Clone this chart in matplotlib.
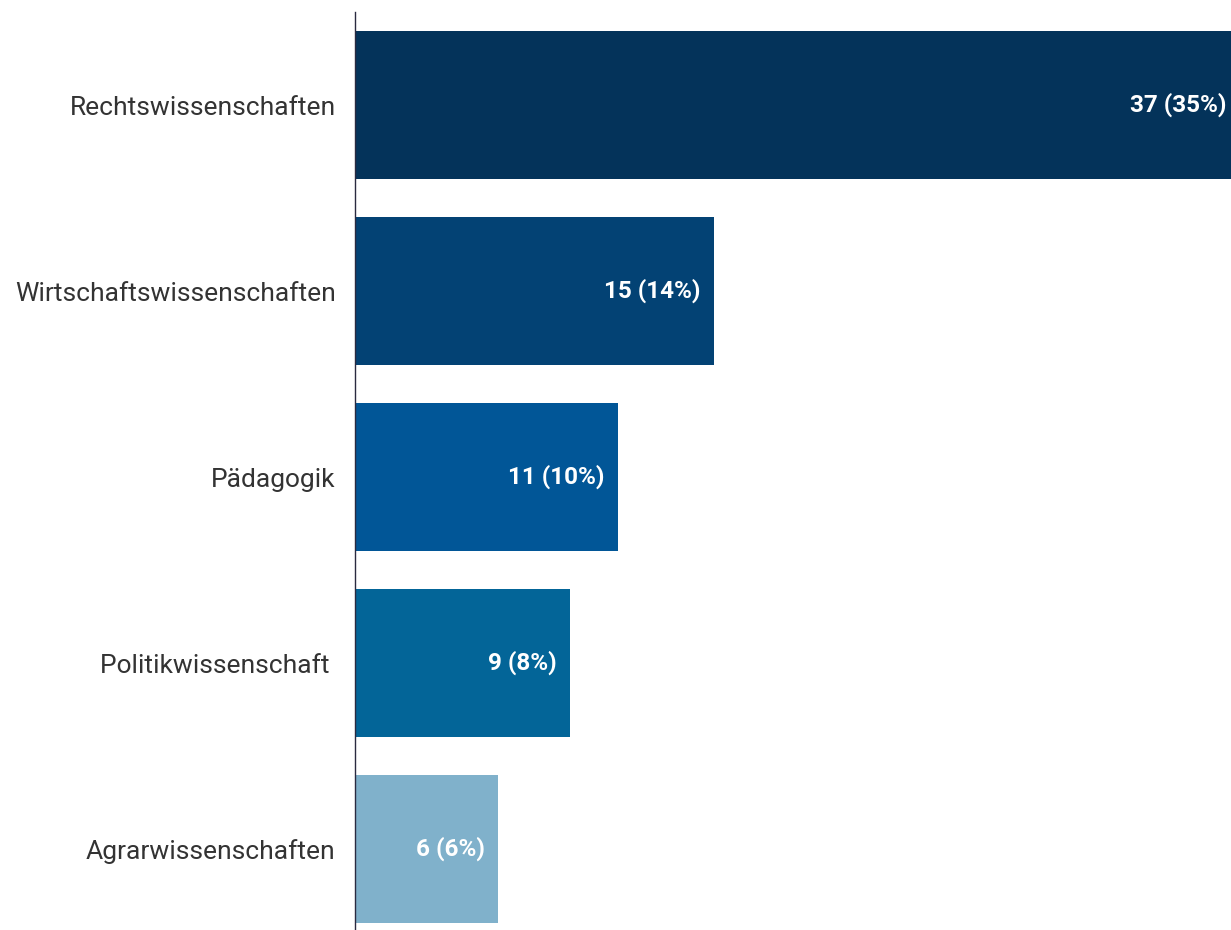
import matplotlib.pyplot as plt

plt.rcParams['font.family'] = ['Roboto', 'DejaVu Sans']

# Fachrichtungen und Anzahl
faecher = ['Rechtswissenschaften', 'Wirtschaftswissenschaften', 'Pädagogik',
           'Politikwissenschaft ', 'Agrarwissenschaften']
anzahl = [37, 15, 11, 9, 6]
anteil = [35, 14, 10, 8, 6]
farben = ['#04335A', '#034274', '#015697', '#036598', '#80B1CB']

fig = plt.figure(figsize=(12.31, 9.30), dpi=100)
ax = fig.add_axes([355 / 1231, 0, 1 - 355 / 1231, 918 / 930])

pos = list(range(len(faecher)))
ax.barh(pos, anzahl, height=0.8, color=farben)

for i, (n, p) in enumerate(zip(anzahl, anteil)):
    ax.annotate(f'{n} ({p}%)', xy=(n, i), xytext=(-9.5, 0),
                textcoords='offset points', ha='right', va='center',
                color='white', fontsize=17.5, fontweight='bold',
                annotation_clip=False)

# der längste Balken läuft rechts über den Rand hinaus
ax.set_xlim(0, 36.65)
ax.set_ylim(4.435, -0.5)
ax.set_yticks(pos)
ax.set_yticklabels(faecher, fontsize=19, color='#333333')
ax.tick_params(axis='y', length=0, pad=14)
ax.set_xticks([])

for s in ['top', 'right', 'bottom']:
    ax.spines[s].set_visible(False)
ax.spines['left'].set_linestyle((0, (1, 1)))
ax.spines['left'].set_color('#2a2a40')
ax.spines['left'].set_linewidth(1.0)

fig.savefig('out.png', dpi=100)
